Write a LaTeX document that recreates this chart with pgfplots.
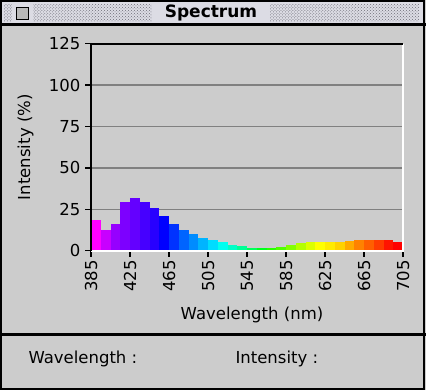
\documentclass[border=0pt]{standalone}
\usepackage{fontspec}
\setmainfont{DejaVu Sans}
\usepackage{pgfplots}
\pgfplotsset{compat=1.18}
\usetikzlibrary{patterns}
\definecolor{winbg}{RGB}{204,204,204}
\definecolor{titlebg}{RGB}{220,220,228}
\definecolor{dotgray}{RGB}{110,110,120}
\definecolor{gridgray}{RGB}{128,128,128}
\definecolor{c390}{RGB}{255,0,255}
\definecolor{c400}{RGB}{200,0,255}
\definecolor{c410}{RGB}{150,0,255}
\definecolor{c420}{RGB}{125,0,255}
\definecolor{c430}{RGB}{100,0,255}
\definecolor{c440}{RGB}{70,0,255}
\definecolor{c450}{RGB}{40,0,255}
\definecolor{c460}{RGB}{0,0,255}
\definecolor{c470}{RGB}{0,50,255}
\definecolor{c480}{RGB}{0,100,255}
\definecolor{c490}{RGB}{0,140,255}
\definecolor{c500}{RGB}{0,180,255}
\definecolor{c510}{RGB}{0,220,255}
\definecolor{c520}{RGB}{0,255,240}
\definecolor{c530}{RGB}{0,255,200}
\definecolor{c540}{RGB}{0,255,150}
\definecolor{c550}{RGB}{0,255,90}
\definecolor{c560}{RGB}{0,255,30}
\definecolor{c570}{RGB}{40,255,0}
\definecolor{c580}{RGB}{80,255,0}
\definecolor{c590}{RGB}{130,255,0}
\definecolor{c600}{RGB}{180,255,0}
\definecolor{c610}{RGB}{220,255,0}
\definecolor{c620}{RGB}{255,255,0}
\definecolor{c630}{RGB}{255,235,0}
\definecolor{c640}{RGB}{255,210,0}
\definecolor{c650}{RGB}{255,170,0}
\definecolor{c660}{RGB}{255,130,0}
\definecolor{c670}{RGB}{255,95,0}
\definecolor{c680}{RGB}{255,60,0}
\definecolor{c690}{RGB}{255,20,0}
\definecolor{c700}{RGB}{255,0,0}
\newcommand{\uifont}{\fontsize{16.5bp}{19bp}\selectfont}
\begin{document}
\begin{tikzpicture}
\useasboundingbox (0,0) rectangle (426bp,-390bp);
\fill[winbg] (0,0) rectangle (426bp,-390bp);
% title bar
\fill[titlebg] (1bp,-1bp) rectangle (423bp,-24bp);
\fill[pattern=crosshatch dots, pattern color=dotgray] (4bp,-4bp) rectangle (419bp,-21bp);
\fill[titlebg] (152bp,-2bp) rectangle (270bp,-23bp);
\fill[titlebg] (12bp,-4bp) rectangle (33bp,-22bp);
\draw[black, line width=1bp, fill=gray!55] (16.5bp,-7.5bp) rectangle (28.5bp,-19.5bp);
\node[font=\bfseries\fontsize{17bp}{20bp}\selectfont] at (211bp,-12.5bp) {Spectrum};
\draw[black, line width=2.5bp] (0,-24.5bp) -- (426bp,-24.5bp);
% bottom panel
\draw[black, line width=2.5bp] (0,-334.5bp) -- (426bp,-334.5bp);
\node[anchor=west, font=\uifont] at (25bp,-359bp) {Wavelength :};
\node[anchor=west, font=\uifont] at (232bp,-359bp) {Intensity :};
% outer border
\draw[black, line width=2bp] (1bp,-1bp) rectangle (424bp,-389bp);
\begin{axis}[
  at={(91bp,-250.7bp)}, anchor=south west,
  scale only axis, width=312bp, height=207bp,
  xmin=385, xmax=705, ymin=0, ymax=125,
  xtick={385,425,...,705}, ytick={0,25,...,125},
  ymajorgrids, grid style={color=gridgray, line width=1.5bp},
  axis line style={draw=none},
  tick align=outside, xtick pos=left, ytick pos=left,
  major tick length=6bp,
  tick style={black, line width=1.5bp},
  tick label style={font=\uifont},
  /pgf/number format/assume math mode=true,
  xticklabel style={rotate=90, anchor=east},
  yticklabel style={xshift=-1bp},
  xlabel={Wavelength (nm)}, ylabel={Intensity (\%)},
  every axis x label/.style={at={(axis description cs:0.516,-0.311)}, anchor=center, font=\uifont},
  every axis y label/.style={at={(axis description cs:-0.21,0.5)}, anchor=center, rotate=90, font=\uifont},
  ybar, bar width=10,
  clip=false,
]
\addplot[fill=c390, draw=none, bar shift=0pt] coordinates {(390,18.5)};
\addplot[fill=c400, draw=none, bar shift=0pt] coordinates {(400,12.5)};
\addplot[fill=c410, draw=none, bar shift=0pt] coordinates {(410,16)};
\addplot[fill=c420, draw=none, bar shift=0pt] coordinates {(420,29.5)};
\addplot[fill=c430, draw=none, bar shift=0pt] coordinates {(430,32)};
\addplot[fill=c440, draw=none, bar shift=0pt] coordinates {(440,29.5)};
\addplot[fill=c450, draw=none, bar shift=0pt] coordinates {(450,26)};
\addplot[fill=c460, draw=none, bar shift=0pt] coordinates {(460,21)};
\addplot[fill=c470, draw=none, bar shift=0pt] coordinates {(470,16)};
\addplot[fill=c480, draw=none, bar shift=0pt] coordinates {(480,12.5)};
\addplot[fill=c490, draw=none, bar shift=0pt] coordinates {(490,10)};
\addplot[fill=c500, draw=none, bar shift=0pt] coordinates {(500,7.7)};
\addplot[fill=c510, draw=none, bar shift=0pt] coordinates {(510,6.5)};
\addplot[fill=c520, draw=none, bar shift=0pt] coordinates {(520,5.3)};
\addplot[fill=c530, draw=none, bar shift=0pt] coordinates {(530,3.5)};
\addplot[fill=c540, draw=none, bar shift=0pt] coordinates {(540,2.6)};
\addplot[fill=c550, draw=none, bar shift=0pt] coordinates {(550,1.7)};
\addplot[fill=c560, draw=none, bar shift=0pt] coordinates {(560,1.5)};
\addplot[fill=c570, draw=none, bar shift=0pt] coordinates {(570,1.5)};
\addplot[fill=c580, draw=none, bar shift=0pt] coordinates {(580,2.5)};
\addplot[fill=c590, draw=none, bar shift=0pt] coordinates {(590,3.5)};
\addplot[fill=c600, draw=none, bar shift=0pt] coordinates {(600,4.8)};
\addplot[fill=c610, draw=none, bar shift=0pt] coordinates {(610,5.3)};
\addplot[fill=c620, draw=none, bar shift=0pt] coordinates {(620,5.3)};
\addplot[fill=c630, draw=none, bar shift=0pt] coordinates {(630,5.3)};
\addplot[fill=c640, draw=none, bar shift=0pt] coordinates {(640,5.5)};
\addplot[fill=c650, draw=none, bar shift=0pt] coordinates {(650,6)};
\addplot[fill=c660, draw=none, bar shift=0pt] coordinates {(660,6.5)};
\addplot[fill=c670, draw=none, bar shift=0pt] coordinates {(670,6.5)};
\addplot[fill=c680, draw=none, bar shift=0pt] coordinates {(680,6.5)};
\addplot[fill=c690, draw=none, bar shift=0pt] coordinates {(690,6.5)};
\addplot[fill=c700, draw=none, bar shift=0pt] coordinates {(700,5)};
\draw[white, line width=2bp] (rel axis cs:1,1) -- (rel axis cs:1,0) -- (rel axis cs:0,0);
\draw[black, line width=2bp] (rel axis cs:0,0) -- (rel axis cs:0,1) -- (rel axis cs:1,1);
\end{axis}
\end{tikzpicture}
\end{document}
